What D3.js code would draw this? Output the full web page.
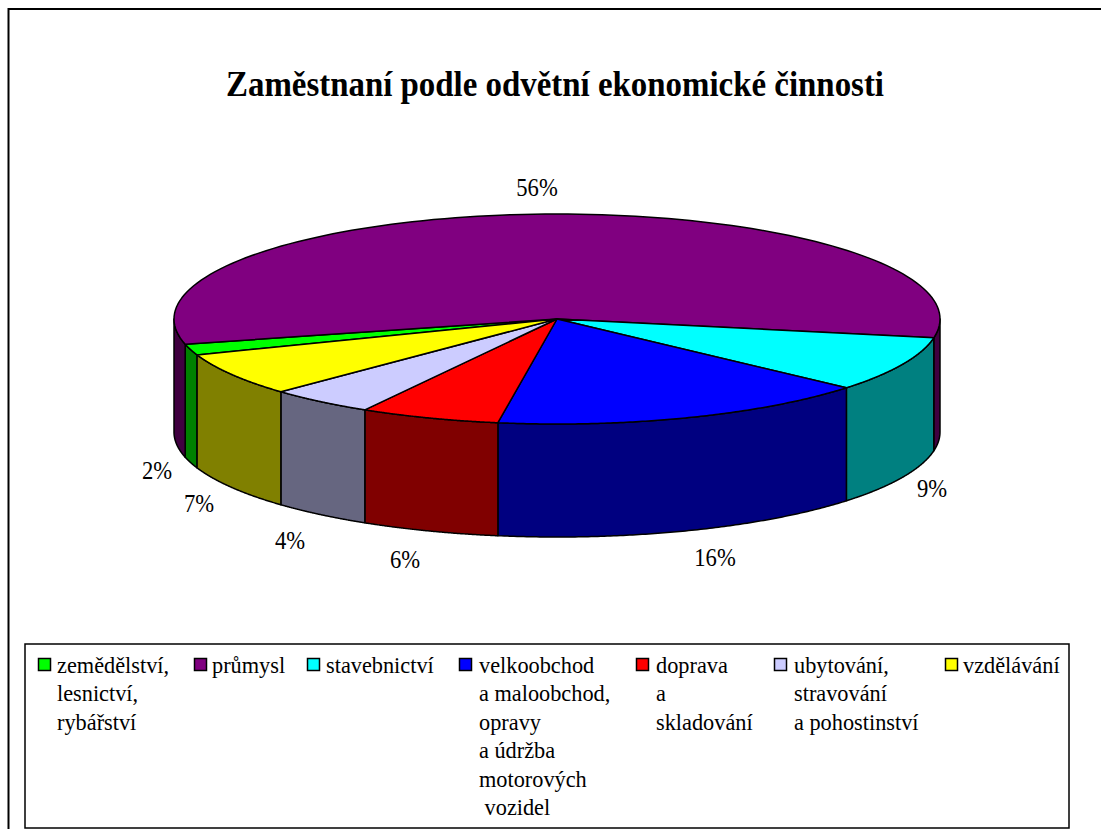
<!DOCTYPE html>
<html><head><meta charset="utf-8">
<script src="https://cdnjs.cloudflare.com/ajax/libs/d3/7.8.5/d3.min.js"></script>
<style>html,body{margin:0;padding:0;background:#fff;overflow:hidden}svg{display:block}text{font-family:"Liberation Serif",serif;fill:#000}</style>
</head><body><div id="chart"></div>
<script>
const title = "Zaměstnaní podle odvětní ekonomické činnosti";
const categories = ["zemědělství, lesnictví, rybářství","průmysl","stavebnictví","velkoobchod a maloobchod, opravy a údržba motorových vozidel","doprava a skladování","ubytování, stravování a pohostinství","vzdělávání"];
const values = [1.7,56.73,8.5,16.1,5.9,4.45,6.63];
const pctLabels = ["2%","56%","9%","16%","6%","4%","7%"];
const topColors = ["#00ff00","#800080","#00ffff","#0000ff","#ff0000","#ccccff","#ffff00"];
const sideColors = ["#008000","#400040","#008080","#000080","#800000","#666680","#808000"];
const legendLines = [["zemědělství,","lesnictví,","rybářství"],["průmysl"],["stavebnictví"],["velkoobchod","a maloobchod,","opravy","a údržba","motorových"," vozidel"],["doprava","a","skladování"],["ubytování,","stravování","a pohostinství"],["vzdělávání"]];
const swatchX = [38,194,307,459,636,774,945];
const legendTextX = [57,212,326,479,656,794,963];
const labelPos = [[157,479],[537,196],[932,497],[715,566],[405,568],[290,549],[199,512]];

const W=1101,H=829;
const svg=d3.select("#chart").append("svg").attr("width",W).attr("height",H);
svg.append("rect").attr("x",8.5).attr("y",9).attr("width",1200).attr("height",H+20).attr("fill","#fff").attr("stroke","#000").attr("stroke-width",2);
svg.append("text").attr("x",226).attr("y",96).attr("font-weight","bold").attr("font-size",36)
  .attr("textLength",658).attr("lengthAdjust","spacingAndGlyphs").text(title);

const sx=d3.scaleLinear().domain([-1,1]).range([174,940]);
const sy=d3.scaleLinear().domain([-1,1]).range([214,424]);
const depth=113;
const pie=d3.pie().sort(null).value(d=>d).startAngle(250*Math.PI/180).endAngle((250+360)*Math.PI/180);
const arcs=pie(values);
const pt=(a,dz=0)=>[sx(Math.sin(a)),sy(-Math.cos(a))+dz];
const line=d3.line();
const sample=(a0,a1,dz=0)=>d3.range(0,121).map(i=>pt(a0+(a1-a0)*i/120,dz));
const styled=(s)=>s.attr("stroke","#000").attr("stroke-width",1.5).attr("stroke-linejoin","round");

// walls: visible front half of the rim
const twoPi=2*Math.PI,L=Math.PI/2,Rr=1.5*Math.PI;
const walls=[];
arcs.forEach((d,i)=>{
  [0,twoPi].forEach(off=>{
    const a0=Math.max(d.startAngle-off,L),a1=Math.min(d.endAngle-off,Rr);
    if(a1>a0) walls.push({i,a0,a1});
  });
});
walls.forEach(w=>{
  const top=sample(w.a0,w.a1),bot=sample(w.a0,w.a1,depth).reverse();
  styled(svg.append("path").attr("d",line(top.concat(bot))+"Z").attr("fill",sideColors[w.i]));
});
// top faces
arcs.forEach((d,i)=>{
  const rim=sample(d.startAngle,d.endAngle);
  styled(svg.append("path").attr("d",line([[sx(0),sy(0)]].concat(rim))+"Z").attr("fill",topColors[i]));
});
// percent labels
pctLabels.forEach((t,i)=>svg.append("text")
  .attr("transform",`translate(${labelPos[i][0]},${labelPos[i][1]}) scale(0.87,1)`)
  .attr("text-anchor","middle").attr("font-size",26).text(t));
// legend
svg.append("rect").attr("x",25).attr("y",644).attr("width",1044).attr("height",184).attr("fill","#fff").attr("stroke","#000").attr("stroke-width",1.5);
legendLines.forEach((lines,i)=>{
  svg.append("rect").attr("x",swatchX[i]+.5).attr("y",658.5).attr("width",12).attr("height",12).attr("fill",topColors[i]).attr("stroke","#000").attr("stroke-width",1.5);
  lines.forEach((l,j)=>svg.append("text").style("white-space","pre")
    .attr("transform",`translate(${legendTextX[i]},${673+j*28.4}) scale(0.93,1)`)
    .attr("font-size",24).text(l));
});
</script></body></html>
